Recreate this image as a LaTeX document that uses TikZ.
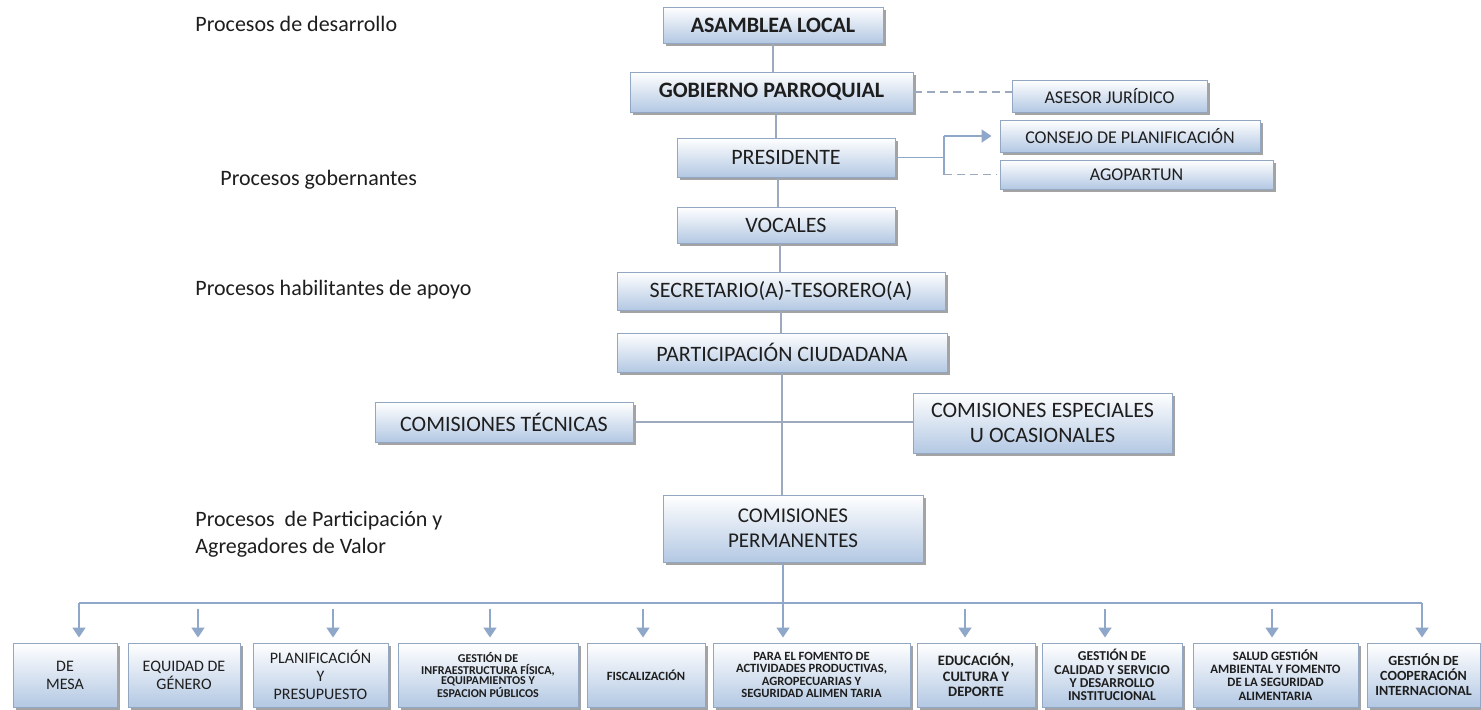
\documentclass[tikz,border=0pt]{standalone}
\usepackage{fontspec}
\setmainfont{Carlito}
\usetikzlibrary{arrows.meta,shadows,calc}
\definecolor{boxblue}{HTML}{B3C8E3}
\definecolor{boxline}{HTML}{93A6C2}
\definecolor{txt}{HTML}{1E1E1E}
\definecolor{lineblue}{HTML}{8FA7C9}
\definecolor{trunkgray}{HTML}{9DAABD}
\tikzset{
  box/.style={draw=boxline, line width=0.5pt, top color=white, bottom color=boxblue,
    drop shadow={shadow xshift=1.3pt, shadow yshift=-1.3pt, fill=black!60, opacity=0.6},
    text=txt, align=center, inner sep=1pt},
  sz/.style 2 args={minimum width=#1*0.5pt, minimum height=#2*0.5pt},
  fbig/.style={font=\fontsize{11}{12.5}\selectfont},
  fbold/.style={font=\bfseries\fontsize{11}{12.5}\selectfont},
  fside/.style={font=\fontsize{9}{10.5}\selectfont},
  fmid/.style={font=\fontsize{8}{9}\selectfont},
  fsmall/.style={font=\bfseries\fontsize{6.3}{6.2}\selectfont},
  lbl/.style={anchor=west, text=txt, inner sep=0pt, font=\fontsize{11}{13.5}\selectfont, align=left},
  trunk/.style={draw=trunkgray, line width=0.6pt},
  conn/.style={draw=lineblue, line width=0.9pt},
  arr/.style={draw=lineblue, line width=0.9pt, -{Triangle[width=6.5pt,length=5pt]}, shorten >=2.5pt},
  dashln/.style={draw=trunkgray, line width=0.6pt, dash pattern=on 4pt off 2.5pt},
}
\begin{document}
\begin{tikzpicture}[x=0.5pt,y=-0.5pt]
\useasboundingbox (0,0) rectangle (1481,709);
\fill[white] (0,0) rectangle (1481,709);

% side labels
\node[lbl] (l1) at (195,24) {Procesos de desarrollo};
\node[lbl] (l2) at (220,180) {Procesos gobernantes};
\node[lbl] (l3) at (195,290) {Procesos habilitantes de apoyo};
\node[lbl] (l4) at (195,534.5) {Procesos\ \ de Participación y\\Agregadores de Valor};

% main boxes
\node[box, sz={220}{36}, fbold] (asamblea) at (773,25) {ASAMBLEA LOCAL};
\node[box, sz={283}{40}, fbold] (gobierno) at (771.5,92) {GOBIERNO PARROQUIAL};
\node[box, sz={195}{32}, fside] (asesor) at (1109.5,96) {ASESOR JURÍDICO};
\node[box, sz={218}{39}, fbig] (presidente) at (786,157.5) {PRESIDENTE};
\node[box, sz={260}{32}, fside] (consejo) at (1130,136) {CONSEJO DE PLANIFICACIÓN};
\node[box, sz={273}{29}, fside] (agopartun) at (1136.5,174.5) {AGOPARTUN};
\node[box, sz={218}{36}, fbig] (vocales) at (786,225) {VOCALES};
\node[box, sz={328}{38}, fbig] (secretario) at (781,291) {SECRETARIO(A)-TESORERO(A)};
\node[box, sz={330}{39}, fbig] (participacion) at (782,352.5) {PARTICIPACIÓN CIUDADANA};
\node[box, sz={258}{40}, fbig] (tecnicas) at (504,422) {COMISIONES TÉCNICAS};
\node[box, sz={259}{60}, fbig] (especiales) at (1042.5,423) {COMISIONES ESPECIALES\\U OCASIONALES};
\node[box, sz={260}{67}, font=\fontsize{10.5}{12.5}\selectfont] (permanentes) at (793,528.5) {COMISIONES\\PERMANENTES};

% bottom boxes
\node[box, sz={104}{64}, fmid] (b1) at (65,675) {DE\\MESA};
\node[box, sz={112}{64}, fmid] (b2) at (184,675) {EQUIDAD DE\\GÉNERO};
\node[box, sz={135}{64}, fmid] (b3) at (320.5,675) {PLANIFICACIÓN\\Y\\PRESUPUESTO};
\node[box, sz={180}{64}, font=\bfseries\fontsize{6}{5}\selectfont] (b4) at (488,675) {GESTIÓN DE\\INFRAESTRUCTURA FÍSICA,\\EQUIPAMIENTOS Y\\ESPACION PÚBLICOS};
\node[box, sz={118}{64}, fsmall] (b5) at (646,675) {FISCALIZACIÓN};
\node[box, sz={197}{64}, fsmall] (b6) at (811.5,675) {PARA EL FOMENTO DE\\ACTIVIDADES PRODUCTIVAS,\\AGROPECUARIAS Y\\SEGURIDAD ALIMEN TARIA};
\node[box, sz={118}{64}, font=\bfseries\fontsize{7.2}{7.8}\selectfont] (b7) at (976,675) {EDUCACIÓN,\\CULTURA Y\\DEPORTE};
\node[box, sz={140}{64}, font=\bfseries\fontsize{6.8}{6.6}\selectfont] (b8) at (1112,675) {GESTIÓN DE\\CALIDAD Y SERVICIO\\Y DESARROLLO\\INSTITUCIONAL};
\node[box, sz={165}{64}, font=\bfseries\fontsize{6.4}{6.6}\selectfont] (b9) at (1275.5,675) {SALUD GESTIÓN\\AMBIENTAL Y FOMENTO\\DE LA SEGURIDAD\\ALIMENTARIA};
\node[box, sz={113}{64}, font=\bfseries\fontsize{7}{7.5}\selectfont] (b10) at (1423.5,675) {GESTIÓN DE\\COOPERACIÓN\\INTERNACIONAL};

% trunk
\draw[trunk] (asamblea.south) -- (asamblea.south |- gobierno.north);
\draw[trunk] ([xshift=2.2pt]gobierno.south) -- ([xshift=2.2pt]gobierno.south |- presidente.north);
\draw[trunk] ([xshift=-4pt]presidente.south) -- ([xshift=-4pt]presidente.south |- vocales.north);
\draw[trunk] ([xshift=-3pt]vocales.south) -- ([xshift=-3pt]vocales.south |- secretario.north);
\draw[trunk] (secretario.south) -- (secretario.south |- participacion.north);
\draw[trunk] (participacion.south) -- (participacion.south |- permanentes.north);
\draw[trunk] (tecnicas.east) -- (tecnicas.east -| especiales.west);

% advisers
\draw[dashln] (gobierno.east) -- (gobierno.east -| asesor.west);
\coordinate (elb) at (944,157.5);
\draw[conn] (presidente.east) -- (elb);
\draw[conn] (elb |- consejo.west) -- (elb |- agopartun.west);
\draw[arr, shorten >=4pt] (elb |- consejo.west) -- (consejo.west);
\draw[dashln] (elb |- agopartun.west) -- ([xshift=-1.5pt]agopartun.west);

% bus and arrows
\coordinate (bus) at (0,603);
\coordinate (busb) at (0,609);
\draw[conn] ([xshift=7pt]b1.north |- bus) -- ([xshift=-0.75pt]b10.north |- bus);
\draw[arr] ([xshift=7pt]b1.north |- bus) -- ([xshift=7pt]b1.north);
\draw[arr] ([xshift=7pt]b2.north |- busb) -- ([xshift=7pt]b2.north);
\draw[arr] ([xshift=6.25pt]b3.north |- busb) -- ([xshift=6.25pt]b3.north);
\draw[arr] ([xshift=1pt]b4.north |- busb) -- ([xshift=1pt]b4.north);
\draw[arr] ([xshift=-1.5pt]b5.north |- busb) -- ([xshift=-1.5pt]b5.north);
\draw[arr] ([xshift=-5pt]permanentes.south) -- ([xshift=-5pt]permanentes.south |- b6.north);
\draw[arr] ([xshift=-5.5pt]b7.north |- busb) -- ([xshift=-5.5pt]b7.north);
\draw[arr] ([xshift=-3.5pt]b8.north |- busb) -- ([xshift=-3.5pt]b8.north);
\draw[arr] ([xshift=-1.75pt]b9.north |- busb) -- ([xshift=-1.75pt]b9.north);
\draw[arr] ([xshift=-0.75pt]b10.north |- bus) -- ([xshift=-0.75pt]b10.north);
\end{tikzpicture}
\end{document}
